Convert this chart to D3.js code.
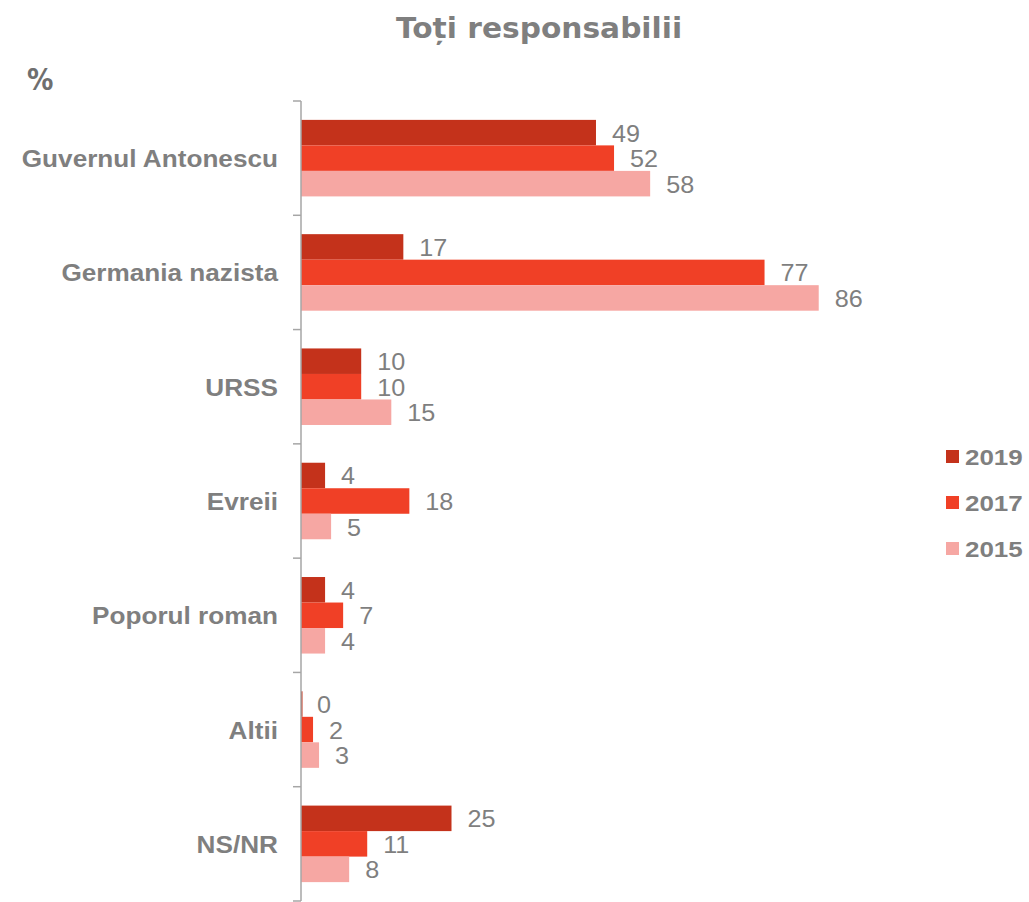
<!DOCTYPE html>
<html>
<head>
<meta charset="utf-8">
<script src="https://cdn.jsdelivr.net/npm/d3@7"></script>
<style>
  body { margin: 0; background: #fff; }
  svg { display: block; font-family: "Liberation Sans", Arial, sans-serif; }
</style>
</head>
<body>
<svg width="1029" height="902"></svg>
<script>
"use strict";

// categories and values
const categories = ["Guvernul Antonescu", "Germania nazista", "URSS", "Evreii", "Poporul roman", "Altii", "NS/NR"];
const years = ["2019", "2017", "2015"];
const values2019 = [49, 17, 10, 4, 4, 0, 25];
const values2017 = [52, 77, 10, 18, 7, 2, 11];
const values2015 = [58, 86, 15, 5, 4, 3, 8];
const seriesColors = ["#c4321b", "#f04026", "#f6a7a3"];

const series = [values2019, values2017, values2015];
const textGray = "#7f7f7f";

const svg = d3.select("svg");

/////////////////////////////////////////////////////
// scales
/////////////////////////////////////////////////////
const x = d3.scaleLinear().domain([0, 100]).range([301, 903]);
const y = d3.scaleBand().domain(categories).range([101, 901]).paddingInner(0).paddingOuter(0);
const yInner = d3.scaleBand().domain(years).range([0, y.bandwidth()]).paddingOuter(0.74).paddingInner(0);

// the original text looks slightly stretched sideways
const stretch = (sx, sy = 1) => function () {
  const t = d3.select(this);
  const ax = +t.attr("x");
  const ay = +t.attr("y");
  t.attr("transform", `translate(${ax},${ay}) scale(${sx},${sy}) translate(${-ax},${-ay})`);
};

/////////////////////////////////////////////////////
// title
/////////////////////////////////////////////////////
svg.append("text")
  .attr("x", 539)
  .attr("y", 38)
  .attr("text-anchor", "middle")
  .attr("font-family", "DejaVu Sans")
  .attr("font-size", 28)
  .attr("font-weight", "bold")
  .attr("fill", textGray)
  .text("Toți responsabilii")
  .each(stretch(1.06));

svg.append("text")
  .attr("x", 27)
  .attr("y", 90)
  .attr("font-family", "DejaVu Sans")
  .attr("font-size", 31)
  .attr("font-weight", "bold")
  .attr("fill", "#6f6f6f")
  .text("%")
  .each(stretch(0.85));

/////////////////////////////////////////////////////
// bars + labels
/////////////////////////////////////////////////////
const groups = svg.append("g")
  .selectAll("g")
  .data(categories)
  .join("g")
  .attr("transform", (d) => `translate(0,${y(d)})`);

years.forEach((yr, si) => {
  groups.append("rect")
    .attr("x", x(0))
    .attr("y", yInner(yr))
    .attr("width", (d, i) => Math.max(x(series[si][i]) - x(0), 1.5))
    .attr("height", yInner.bandwidth())
    .attr("fill", seriesColors[si]);

  groups.append("text")
    .attr("x", (d, i) => x(series[si][i]) + 16)
    .attr("y", yInner(yr) + yInner.bandwidth() / 2 + 9)
    .attr("font-size", 24)
    .attr("fill", textGray)
    .text((d, i) => series[si][i])
    .each(stretch(1.05));
});

/////////////////////////////////////////////////////
// category axis
/////////////////////////////////////////////////////
const axis = svg.append("g");
axis.append("line")
  .attr("x1", x(0)).attr("x2", x(0))
  .attr("y1", y.range()[0]).attr("y2", y.range()[1])
  .attr("stroke", "#a6a6a6")
  .attr("stroke-width", 1.5);

axis.selectAll(".tick")
  .data(categories.map((c) => y(c)).concat([y.range()[1]]))
  .join("line")
  .attr("class", "tick")
  .attr("x1", x(0) - 8).attr("x2", x(0))
  .attr("y1", (d) => d).attr("y2", (d) => d)
  .attr("stroke", "#a6a6a6")
  .attr("stroke-width", 1.5);

axis.selectAll(".cat")
  .data(categories)
  .join("text")
  .attr("class", "cat")
  .attr("x", 278)
  .attr("y", (d) => y(d) + y.bandwidth() / 2 + 9)
  .attr("text-anchor", "end")
  .attr("font-size", 24)
  .attr("font-weight", "bold")
  .attr("fill", textGray)
  .text((d) => d)
  .each(stretch(1.09));

/////////////////////////////////////////////////////
// legend
/////////////////////////////////////////////////////
const legend = svg.append("g")
  .selectAll("g")
  .data(years)
  .join("g")
  .attr("transform", (d, i) => `translate(946,${456.5 + i * 46})`);

legend.append("rect")
  .attr("x", 0).attr("y", -6.5)
  .attr("width", 13).attr("height", 13)
  .attr("fill", (d, i) => seriesColors[i]);

legend.append("text")
  .attr("x", 19)
  .attr("y", 8)
  .attr("font-size", 22)
  .attr("font-weight", "bold")
  .attr("fill", textGray)
  .text((d) => d)
  .each(stretch(1.18));
</script>
</body>
</html>
